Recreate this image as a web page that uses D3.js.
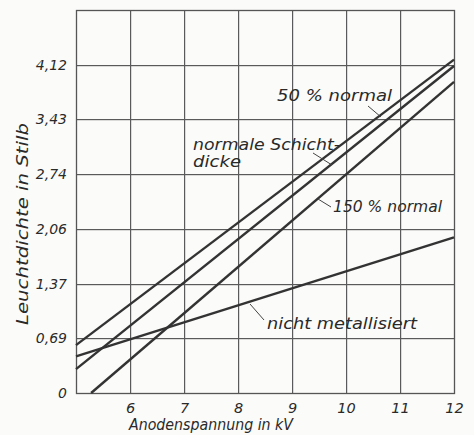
<!DOCTYPE html>
<html>
<head>
<meta charset="utf-8">
<script src="https://cdn.jsdelivr.net/npm/d3@7"></script>
<style>
  html, body { margin: 0; padding: 0; background: #fbfbf9; }
  svg { display: block; }
  text { font-family: "DejaVu Sans", sans-serif; font-style: italic; fill: #2a2a2a; }
</style>
</head>
<body>
<svg id="chart" width="474" height="435"></svg>
<script>
// ---- data ----
const xTicks = [6, 7, 8, 9, 10, 11, 12];
const xTickLabels = ["6", "7", "8", "9", "10", "11", "12"];
const yTicks = [0, 0.686, 1.372, 2.058, 2.744, 3.43, 4.116];
const yTickLabels = ["0", "0,69", "1,37", "2,06", "2,74", "3,43", "4,12"];

const x50 = [5, 12];      const y50 = [0.60, 4.18];     // 50 % normal
const xNormal = [5, 12];  const yNormal = [0.30, 4.10]; // normale Schichtdicke
const x150 = [5.28, 12];  const y150 = [0.00, 3.90];    // 150 % normal
const xNicht = [5, 12];   const yNicht = [0.46, 1.95];  // nicht metallisiert

const xDomain = [5, 12];
const yDomain = [0, 4.802];

// ---- layout ----
const svg = d3.select("#chart");
const m = { left: 76, right: 454, top: 10, bottom: 393 };
const xs = d3.scaleLinear().domain(xDomain).range([m.left, m.right]);
const ys = d3.scaleLinear().domain(yDomain).range([m.bottom, m.top]);

// grid lines drawn as 1px filled rects
svg.append("g").selectAll("rect").data(xTicks.slice(0, -1)).join("rect")
  .attr("x", d => Math.round(xs(d))).attr("width", 1.2)
  .attr("y", m.top).attr("height", m.bottom - m.top)
  .attr("fill", "#5a5a5a");
svg.append("g").selectAll("rect").data(yTicks.slice(1)).join("rect")
  .attr("x", m.left).attr("width", m.right - m.left)
  .attr("y", d => Math.round(ys(d))).attr("height", 1.2)
  .attr("fill", "#5a5a5a");

svg.append("rect")
  .attr("x", m.left + 0.5).attr("y", m.top + 0.5)
  .attr("width", m.right - m.left).attr("height", m.bottom - m.top)
  .attr("fill", "none").attr("stroke", "#555").attr("stroke-width", 1.3);

// axis labels
const gx = svg.append("g").attr("transform", `translate(0,${m.bottom})`)
  .call(d3.axisBottom(xs).tickValues(xTicks).tickSize(0).tickPadding(10).tickFormat((d, i) => xTickLabels[i]));
gx.select(".domain").remove();
gx.selectAll("text").attr("font-size", 14.5).attr("font-family", "DejaVu Sans").attr("font-style", "italic").attr("fill", "#2a2a2a");

const gy = svg.append("g").attr("transform", `translate(${m.left},0)`)
  .call(d3.axisLeft(ys).tickValues(yTicks).tickSize(0).tickPadding(9).tickFormat((d, i) => yTickLabels[i]));
gy.select(".domain").remove();
gy.selectAll("text").attr("font-size", 14).attr("font-family", "DejaVu Sans").attr("font-style", "italic").attr("fill", "#2a2a2a");

// axis titles
svg.append("text").attr("x", 211).attr("y", 430).attr("text-anchor", "middle")
  .attr("font-size", 16).attr("textLength", 164).attr("lengthAdjust", "spacingAndGlyphs")
  .text("Anodenspannung in kV");
svg.append("text").attr("transform", "translate(28,224) rotate(-90)").attr("text-anchor", "middle")
  .attr("font-size", 16).attr("textLength", 202).attr("lengthAdjust", "spacingAndGlyphs")
  .text("Leuchtdichte in Stilb");

// series lines
const series = [
  { xv: x50, yv: y50 },
  { xv: xNormal, yv: yNormal },
  { xv: x150, yv: y150 },
  { xv: xNicht, yv: yNicht }
];
const lineGen = d3.line().x(d => xs(d[0])).y(d => ys(d[1]));
svg.append("g").selectAll("path").data(series).join("path")
  .attr("d", s => lineGen(s.xv.map((v, i) => [v, s.yv[i]])))
  .attr("fill", "none").attr("stroke", "#333").attr("stroke-width", 2.4);

// annotations
const ann = svg.append("g");
function label(tx, ty, lines, lens, lx1, ly1, lx2, ly2) {
  const t = ann.append("text").attr("x", tx).attr("y", ty).attr("font-size", 15.5);
  lines.forEach((s, i) => t.append("tspan").attr("x", tx).attr("dy", i === 0 ? 0 : 17)
    .attr("textLength", lens[i]).attr("lengthAdjust", "spacingAndGlyphs").text(s));
  ann.append("line").attr("x1", lx1).attr("y1", ly1).attr("x2", lx2).attr("y2", ly2)
    .attr("stroke", "#444").attr("stroke-width", 1);
}
label(277, 101, ["50 % normal"], [115], 368, 106, 381, 117);
label(193, 150, ["normale Schicht-", "dicke"], [147, 48], 313, 153, 332, 165);
label(333, 212, ["150 % normal"], [109], 318, 199, 331, 207);
label(267, 329, ["nicht metallisiert"], [150], 250, 304, 264, 320);
</script>
</body>
</html>
